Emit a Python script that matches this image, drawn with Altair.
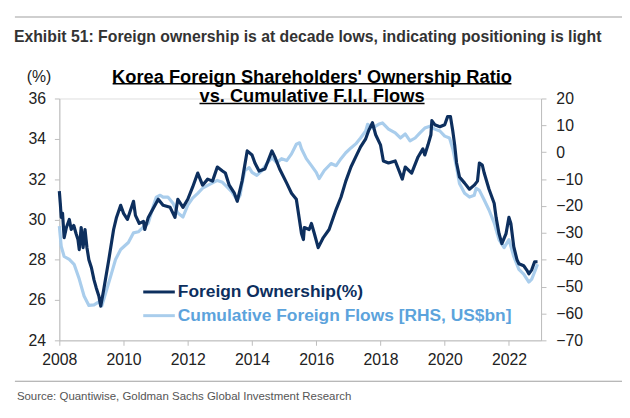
import altair as alt
import pandas as pd

# ---- data ----
dark_year = [2008.00, 2008.03, 2008.06, 2008.10, 2008.15, 2008.22, 2008.31, 2008.37, 2008.45, 2008.52,
             2008.58, 2008.62, 2008.68, 2008.74, 2008.80, 2008.86, 2008.92, 2009.00, 2009.08, 2009.15,
             2009.23, 2009.29, 2009.38, 2009.54, 2009.69, 2009.78, 2009.91, 2010.00, 2010.12, 2010.31,
             2010.37, 2010.49, 2010.62, 2010.66, 2010.77, 2011.08, 2011.23, 2011.45, 2011.60, 2011.69,
             2011.85, 2012.00, 2012.15, 2012.31, 2012.46, 2012.62, 2012.77, 2012.92, 2013.08, 2013.17,
             2013.29, 2013.45, 2013.54, 2013.69, 2013.85, 2014.00, 2014.09, 2014.22, 2014.40, 2014.62,
             2014.71, 2014.86, 2015.08, 2015.23, 2015.38, 2015.54, 2015.60, 2015.63, 2015.78, 2015.85,
             2015.94, 2016.06, 2016.22, 2016.40, 2016.62, 2016.77, 2016.92, 2017.08, 2017.23, 2017.38,
             2017.54, 2017.63, 2017.75, 2017.85, 2018.00, 2018.09, 2018.25, 2018.46, 2018.68, 2018.77,
             2018.97, 2019.17, 2019.32, 2019.38, 2019.48, 2019.57, 2019.60, 2019.69, 2019.85, 2020.00,
             2020.09, 2020.18, 2020.25, 2020.31, 2020.37, 2020.46, 2020.62, 2020.77, 2020.92, 2021.02,
             2021.08, 2021.17, 2021.23, 2021.38, 2021.54, 2021.60, 2021.69, 2021.78, 2021.91, 2022.00,
             2022.06, 2022.15, 2022.25, 2022.31, 2022.46, 2022.55, 2022.62, 2022.71, 2022.80, 2022.89]
dark_val = [31.4, 30.8, 30.1, 30.3, 29.1, 29.6, 30.0, 29.5, 29.7, 29.3,
            29.0, 28.5, 29.6, 28.6, 29.5, 28.6, 28.0, 27.6, 27.0, 26.6,
            26.2, 25.7, 26.5, 28.0, 29.5, 30.1, 30.7, 30.3, 30.0, 30.9,
            30.2, 29.8, 29.9, 29.5, 30.1, 31.0, 30.7, 30.6, 30.1, 31.0,
            30.6, 31.0, 31.6, 32.3, 31.7, 32.0, 31.9, 32.6, 32.4, 32.3,
            31.7, 31.3, 30.9, 31.9, 33.4, 33.2, 32.8, 32.4, 32.5, 33.4,
            33.1, 32.5, 31.8, 31.3, 31.0, 29.3, 29.0, 29.6, 29.5, 29.8,
            29.3, 28.6, 29.1, 29.5, 30.5, 31.1, 31.9, 32.6, 33.1, 33.6,
            34.0, 34.4, 34.8, 34.2, 33.7, 32.9, 32.8, 32.9, 32.0, 32.6,
            32.3, 33.1, 33.5, 33.2, 33.7, 34.2, 34.9, 34.7, 34.6, 34.7,
            35.1, 35.1, 34.4, 33.7, 32.8, 32.1, 31.8, 31.5, 31.7, 31.9,
            32.8, 32.7, 32.3, 31.5, 30.8, 30.1, 29.3, 28.8, 29.3, 30.1,
            29.8, 28.65, 28.0, 27.8, 27.7, 27.5, 27.3, 27.5, 27.9, 27.9]

light_year = [2008.00, 2008.06, 2008.15, 2008.31, 2008.46, 2008.62, 2008.77, 2008.92, 2009.08, 2009.23,
              2009.32, 2009.48, 2009.60, 2009.75, 2009.91, 2010.15, 2010.31, 2010.46, 2010.62, 2010.77,
              2010.92, 2011.02, 2011.14, 2011.23, 2011.38, 2011.54, 2011.69, 2011.85, 2012.00, 2012.15,
              2012.31, 2012.46, 2012.62, 2012.92, 2013.08, 2013.23, 2013.38, 2013.54, 2013.63, 2013.69,
              2013.78, 2013.91, 2014.00, 2014.15, 2014.31, 2014.46, 2014.62, 2014.77, 2014.92, 2015.08,
              2015.23, 2015.38, 2015.48, 2015.54, 2015.69, 2015.85, 2016.00, 2016.09, 2016.25, 2016.46,
              2016.62, 2016.77, 2016.92, 2017.08, 2017.23, 2017.38, 2017.54, 2017.60, 2017.75, 2017.94,
              2018.06, 2018.25, 2018.46, 2018.62, 2018.77, 2018.92, 2019.08, 2019.23, 2019.38, 2019.54,
              2019.69, 2019.85, 2020.00, 2020.15, 2020.25, 2020.37, 2020.46, 2020.62, 2020.77, 2020.92,
              2020.98, 2021.08, 2021.23, 2021.38, 2021.54, 2021.69, 2021.85, 2022.00, 2022.15, 2022.31,
              2022.46, 2022.62, 2022.71, 2022.83, 2022.89]
light_val = [-27.5, -35.1, -38.8, -39.9, -41.7, -47.2, -53.5, -57.0, -56.8, -55.7,
             -57.2, -50.9, -46.1, -39.9, -36.2, -33.6, -30.0, -29.6, -27.8, -26.4,
             -20.3, -16.7, -16.0, -16.7, -16.7, -19.0, -22.6, -24.1, -19.7, -17.1,
             -15.3, -13.4, -12.3, -10.5, -11.2, -13.0, -14.9, -17.8, -16.0, -11.6,
             -6.8, -5.7, -7.5, -8.6, -6.8, -4.2, -2.0, -3.9, -2.4, -3.1,
             -0.6, 3.0, 3.5, 1.3, -2.4, -5.0, -7.5, -9.8, -6.8, -4.2,
             -5.0, -2.4, -0.2, 1.6, 3.1, 5.3, 7.9, 10.4, 9.0, 10.4,
             10.9, 8.6, 7.2, 5.3, 6.8, 4.2, 5.3, 7.2, 9.0, 9.7,
             8.6, 7.9, 6.0, 5.3, 1.3, -5.7, -11.6, -15.3, -16.7, -16.0,
             -13.4, -14.2, -17.8, -21.5, -26.3, -32.5, -35.5, -32.5, -38.8, -43.6,
             -45.4, -48.3, -47.2, -43.6, -41.7]

x_ticks = [2008, 2010, 2012, 2014, 2016, 2018, 2020, 2022]
left_ticks = [24, 26, 28, 30, 32, 34, 36]
right_ticks = [-70, -60, -50, -40, -30, -20, -10, 0, 10, 20]

series_names = ["Foreign Ownership(%)", "Cumulative Foreign Flows [RHS, US$bn]"]
exhibit_title = "Exhibit 51: Foreign ownership is at decade lows, indicating positioning is light"
chart_title = ["Korea Foreign Shareholders' Ownership Ratio", "vs. Cumulative F.I.I. Flows"]
source_text = "Source: Quantiwise, Goldman Sachs Global Investment Research"
left_unit = "(%)"

DARK = "#0d2f5e"
LIGHT = "#a9cdec"
LIGHT_TXT = "#5ca3dc"
AXIS_C = "#bdbdbd"
FONT = "Liberation Sans"

dark_df = pd.DataFrame({"year": dark_year, "own": dark_val})
light_df = pd.DataFrame({"year": light_year, "flow": light_val})

x_enc = alt.X("year:Q", scale=alt.Scale(domain=[2008, 2023], nice=False, zero=False),
              axis=alt.Axis(values=x_ticks, format="d", title=None, grid=False, labelFlush=False,
                            domainColor=AXIS_C, tickColor=AXIS_C, tickSize=5,
                            labelFontSize=16, labelColor="#222", labelPadding=6, labelFont=FONT))

light_line = alt.Chart(light_df).mark_line(color=LIGHT, strokeWidth=3.2, strokeJoin="round").encode(
    x=x_enc,
    y=alt.Y("flow:Q", scale=alt.Scale(domain=[-70, 20], nice=False, zero=False),
            axis=alt.Axis(orient="right", values=right_ticks, title=None, grid=False,
                          domainColor=AXIS_C, tickColor=AXIS_C, tickSize=5,
                          labelFontSize=16, labelColor="#222", labelPadding=10, labelFont=FONT)),
)

dark_line = alt.Chart(dark_df).mark_line(color=DARK, strokeWidth=3.2, strokeJoin="round").encode(
    x=x_enc,
    y=alt.Y("own:Q", scale=alt.Scale(domain=[24, 36], nice=False, zero=False),
            axis=alt.Axis(orient="left", values=left_ticks, title=None, grid=False,
                          domainColor=AXIS_C, tickColor=AXIS_C, tickSize=5,
                          labelFontSize=16, labelColor="#222", labelPadding=9, labelFont=FONT)),
)

one = pd.DataFrame({"d": [0]})


def txt(text, x, y, size, color, weight="normal", align="left", font=FONT):
    return alt.Chart(one).mark_text(text=text, align=align, baseline="middle", fontSize=size,
                                    color=color, fontWeight=weight, font=font).encode(
        x=alt.value(x), y=alt.value(y))


def rule(x1, x2, y, color, w):
    return alt.Chart(one).mark_rule(color=color, strokeWidth=w).encode(
        x=alt.value(x1), x2=alt.value(x2), y=alt.value(y))


def band(x1, x2, y1, y2, color):
    return alt.Chart(one).mark_rect(color=color).encode(
        x=alt.value(x1), x2=alt.value(x2), y=alt.value(y1), y2=alt.value(y2))


layers = [
    band(-45, 570, -83, -82, "#a0a0a0"),
    txt(exhibit_title, -46, -62, 16, "#333333", "bold"),
    txt(left_unit, -33, -22, 16, "#222"),
    txt(chart_title[0], 256, -22, 18.5, "#000", "bold", align="center"),
    rule(54, 458, -15, "#000", 1.5),
    txt(chart_title[1], 256, -2, 18.5, "#000", "bold", align="center"),
    rule(142, 370, 5, "#000", 1.5),
    band(-45, 570, 286, 287, "#a0a0a0"),
    txt(source_text, -43, 302, 11.6, "#555555"),
    rule(85, 117, 196, DARK, 3),
    txt(series_names[0], 120, 196, 17.6, DARK, "bold"),
    rule(85, 117, 220, LIGHT, 3),
    txt(series_names[1], 120, 220, 17.6, LIGHT_TXT, "bold"),
]

chart = alt.layer(light_line, dark_line, *layers).resolve_scale(y="independent").properties(
    width=488, height=245,
    autosize=alt.AutoSizeParams(type="none"),
    padding={"left": 52, "top": 89, "right": 82, "bottom": 76},
).configure_view(stroke=None).configure(background="white")

chart.save("out.html", embed_options={"renderer": "svg", "actions": False})
